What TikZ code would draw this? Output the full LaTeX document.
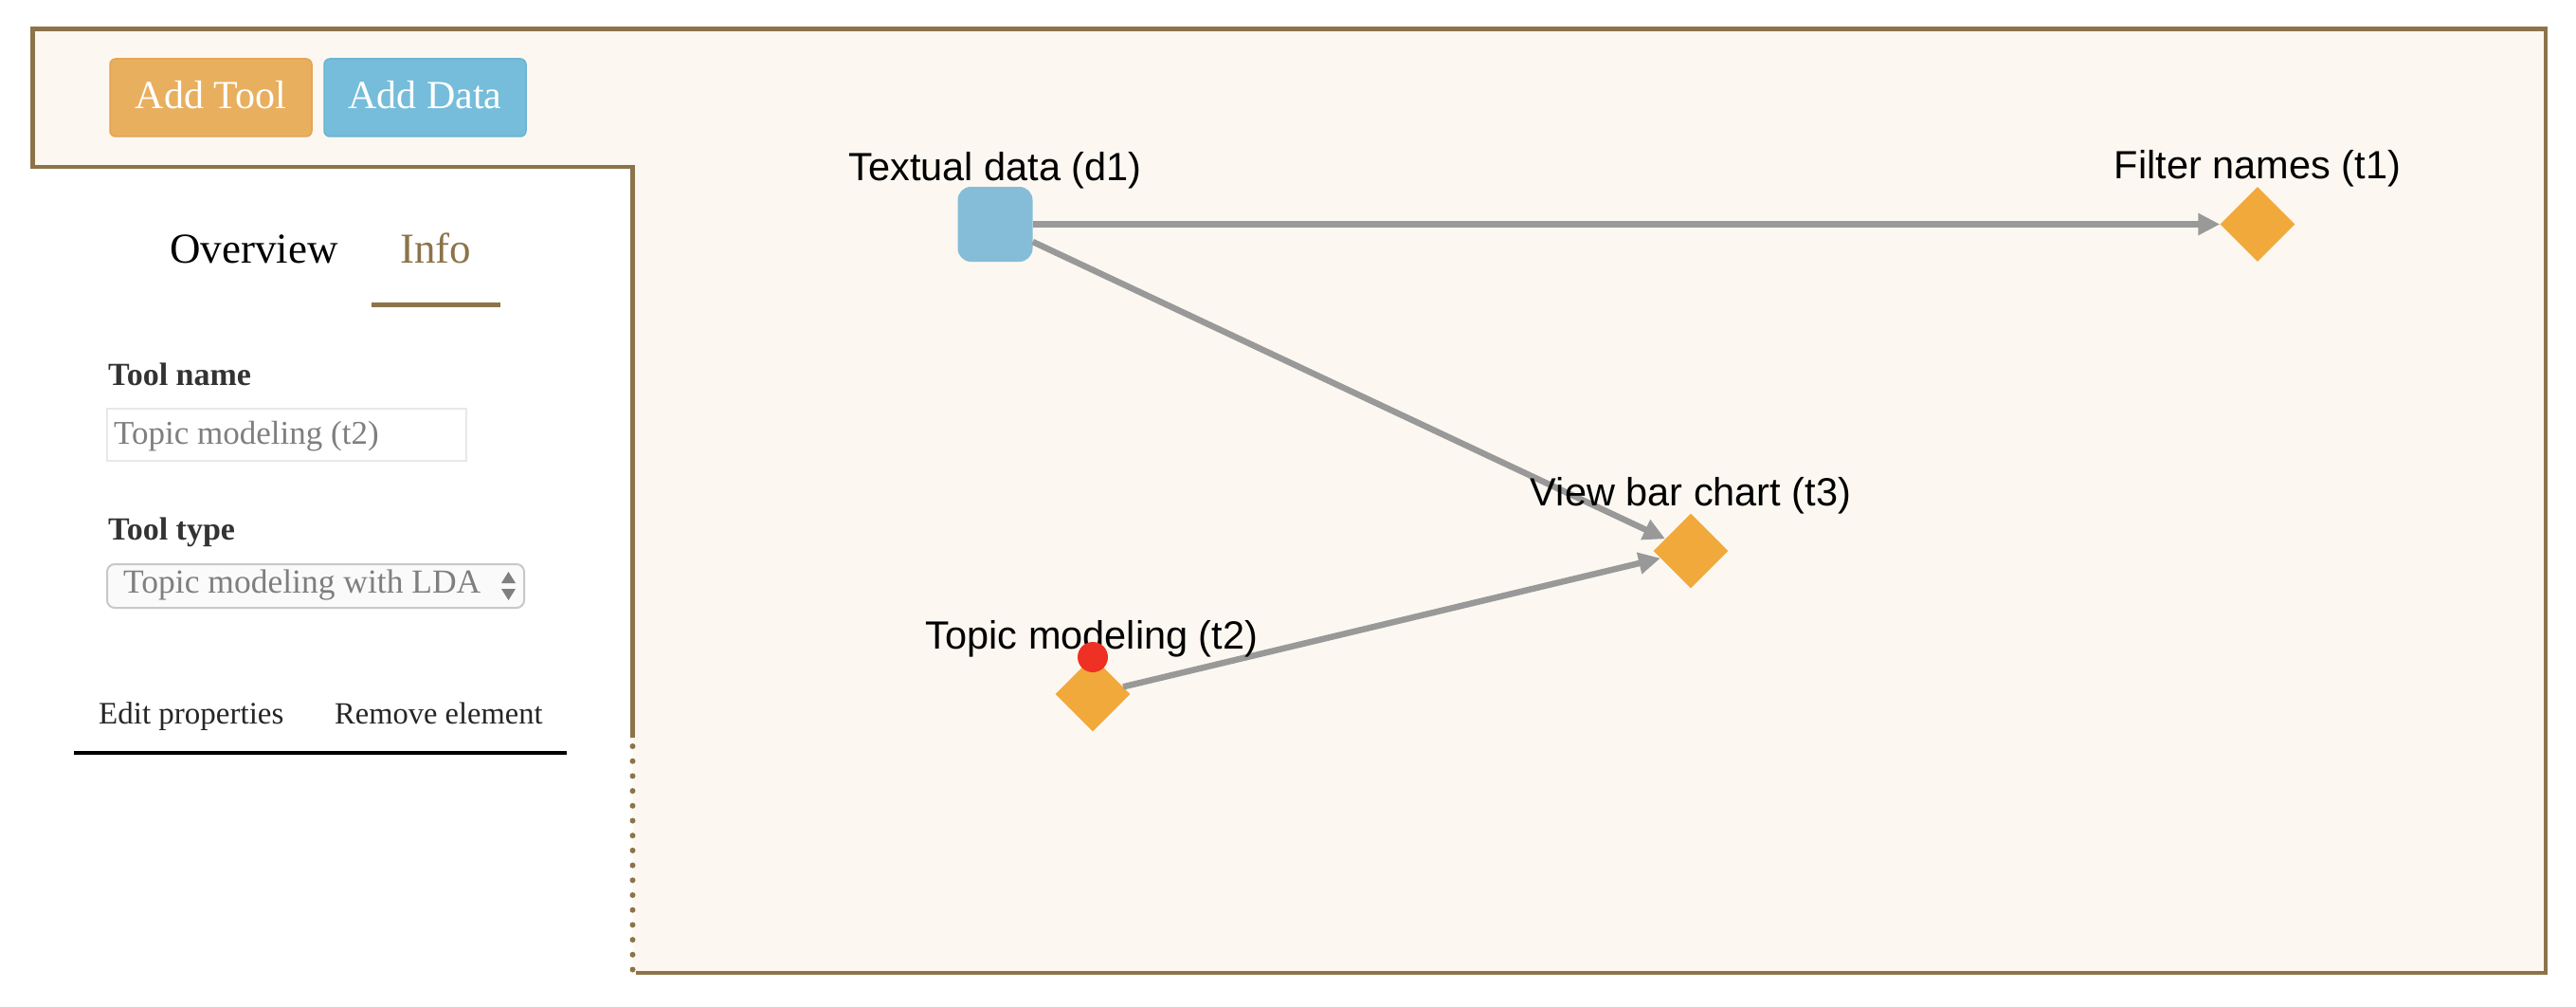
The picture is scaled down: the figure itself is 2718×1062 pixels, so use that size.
\documentclass[tikz,border=0pt]{standalone}
\usepackage{fontspec}
\setmainfont{Liberation Serif}
\newfontfamily\graphfont{Liberation Sans}
\usetikzlibrary{shapes.geometric,arrows.meta}
\definecolor{beige}{HTML}{FCF8F1}
\definecolor{framec}{HTML}{8C7349}
\definecolor{tooldark}{HTML}{333333}
\definecolor{btnorange}{HTML}{E8AF5E}
\definecolor{btnorangeb}{HTML}{E2A453}
\definecolor{btnblue}{HTML}{75BDDA}
\definecolor{btnblueb}{HTML}{6BB4D3}
\definecolor{datablue}{HTML}{85BDD8}
\definecolor{tooloran}{HTML}{F2A93B}
\definecolor{edgegray}{HTML}{999999}
\definecolor{dotred}{HTML}{EE3124}
\definecolor{txtgray}{HTML}{7F7F7F}
\definecolor{fieldb}{HTML}{E8E8E8}
\definecolor{selectb}{HTML}{C8C8C8}
\definecolor{selectf}{HTML}{FAFAFA}
\tikzset{
  btn/.style={rounded corners=6pt, line width=1.5pt, text=white, inner sep=0pt,
    minimum width=213pt, minimum height=82pt, text height=24pt, text depth=0pt,
    font=\fontsize{42}{48}\selectfont},
  sidetxt/.style={anchor=base west, inner sep=0pt},
  glabel/.style={anchor=base, inner sep=0pt, font=\graphfont\fontsize{41.5}{48}\selectfont, text=black},
  toolnode/.style={shape=diamond, fill=tooloran, inner sep=0pt, minimum width=79pt, minimum height=79pt},
  datanode/.style={shape=rectangle, fill=datablue, rounded corners=14pt, inner sep=0pt, minimum width=79pt, minimum height=79pt},
  flow/.style={draw=edgegray, line width=6.5pt, -{Triangle[length=23pt,width=22pt]}},
}
\begin{document}
\begin{tikzpicture}[x=1pt,y=-1pt]
\useasboundingbox[fill=white] (0,0) rectangle (2718,1062);
% canvas background
\fill[beige] (34.5,30.5) -- (2686,30.5) -- (2686,1026) -- (667.5,1026) -- (667.5,176) -- (34.5,176) -- cycle;
% frame
\draw[framec, line width=4.5pt] (667.5,778) -- (667.5,176) -- (34.5,176) -- (34.5,30.5) -- (2686,30.5) -- (2686,1026) -- (671,1026);
\draw[framec, line width=6pt, line cap=round, dash pattern=on 0pt off 15.7pt] (667.5,787) -- (667.5,1025);
% buttons
\node[btn, fill=btnorange, draw=btnorangeb] (addtool) at (222.5,103) {Add Tool};
\node[btn, fill=btnblue, draw=btnblueb] (adddata) at (448.5,103) {Add Data};
% tabs
\node[sidetxt, font=\fontsize{45}{52}\selectfont, text=black] (overview) at (179,277) {Overview};
\node[sidetxt, font=\fontsize{45}{52}\selectfont, text=framec] (info) at (422,277) {Info};
\draw[framec, line width=5pt] (392,321) -- (528,321);
% tool name
\node[sidetxt, font=\bfseries\fontsize{34}{40}\selectfont, text=tooldark] (toolname) at (114,406) {Tool name};
\draw[fieldb, line width=1.5pt] (113,431) rectangle (492,486);
\node[sidetxt, font=\fontsize{35}{40}\selectfont, text=txtgray] (namefield) at (120,468) {Topic modeling (t2)};
% tool type
\node[sidetxt, font=\bfseries\fontsize{34}{40}\selectfont, text=tooldark] (tooltype) at (114,569) {Tool type};
\draw[selectb, fill=selectf, line width=2pt, rounded corners=8pt] (113,595) rectangle (553,641);
\node[sidetxt, font=\fontsize{35.5}{40}\selectfont, text=txtgray] (typefield) at (130,625) {Topic modeling with LDA};
\fill[txtgray] (529,615) -- (544,615) -- (536.5,603) -- cycle;
\fill[txtgray] (529,621) -- (544,621) -- (536.5,633) -- cycle;
% actions
\node[sidetxt, font=\fontsize{33}{38}\selectfont, text=black!85] (editprops) at (104,763) {Edit properties};
\node[sidetxt, font=\fontsize{32.5}{38}\selectfont, text=black!85] (removeel) at (353,763) {Remove element};
\draw[black, line width=3.5pt] (78,794) -- (598,794);
% graph nodes
\node[datanode] (d1) at (1050,236.5) {};
\node[toolnode] (t1) at (2382,236.5) {};
\node[toolnode] (t3) at (1784,581) {};
\node[toolnode] (t2) at (1153,732) {};
% edges
\draw[flow] (d1) -- (t1);
\draw[flow] (d1) -- (t3);
\draw[flow] (t2) -- (t3);
% labels
\node[glabel] (d1lab) at (1050,190) {Textual data (d1)};
\node[glabel] (t1lab) at (2382,189) {Filter names (t1)};
\node[glabel] (t3lab) at (1784,533) {View bar chart (t3)};
\node[glabel] (t2lab) at (1152,684) {Topic modeling (t2)};
% selection marker
\node[circle, fill=dotred, inner sep=0pt, minimum size=32pt] (sel) at (1153,693) {};
\end{tikzpicture}
\end{document}
